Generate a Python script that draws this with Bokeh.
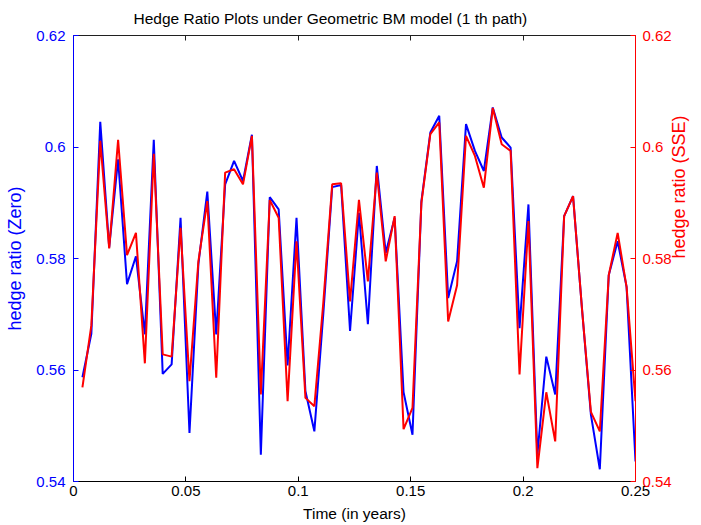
import math
import numpy as np
from bokeh.plotting import figure
from bokeh.models import Range1d, LinearAxis, FixedTicker
from bokeh.embed import file_html
from bokeh.resources import INLINE

# ---- data ----
n_steps = 63
t_end = 0.25
time = np.arange(1, n_steps + 1) * t_end / n_steps

hedge_zero = [0.5587, 0.5665, 0.6045, 0.5820, 0.5978, 0.5754, 0.5804, 0.5664, 0.6013, 0.5593,
              0.5610, 0.5873, 0.5487, 0.5790, 0.5920, 0.5664, 0.5933, 0.5975, 0.5939, 0.6022,
              0.5448, 0.5910, 0.5888, 0.5608, 0.5873, 0.5562, 0.5490, 0.5700, 0.5928, 0.5932,
              0.5670, 0.5882, 0.5682, 0.5966, 0.5810, 0.5873, 0.5560, 0.5484, 0.5903, 0.6026,
              0.6056, 0.5729, 0.5795, 0.6041, 0.5993, 0.5957, 0.6071, 0.6017, 0.5999, 0.5675,
              0.5897, 0.5448, 0.5624, 0.5556, 0.5876, 0.5912, 0.5710, 0.5520, 0.5422, 0.5770,
              0.5831, 0.5749, 0.5436]

hedge_sse = [0.5569, 0.5680, 0.6011, 0.5818, 0.6013, 0.5806, 0.5846, 0.5612, 0.5988, 0.5628,
             0.5624, 0.5855, 0.5580, 0.5795, 0.5903, 0.5586, 0.5954, 0.5960, 0.5933, 0.6020,
             0.5556, 0.5905, 0.5873, 0.5544, 0.5831, 0.5550, 0.5535, 0.5720, 0.5933, 0.5935,
             0.5723, 0.5905, 0.5759, 0.5954, 0.5795, 0.5876, 0.5494, 0.5532, 0.5900, 0.6023,
             0.6044, 0.5687, 0.5752, 0.6020, 0.5984, 0.5927, 0.6070, 0.6005, 0.5993, 0.5592,
             0.5867, 0.5424, 0.5560, 0.5472, 0.5876, 0.5912, 0.5710, 0.5525, 0.5490, 0.5770,
             0.5846, 0.5749, 0.5544]

x_ticks = [0, 0.05, 0.1, 0.15, 0.2, 0.25]
x_tick_labels = ["0", "0.05", "0.1", "0.15", "0.2", "0.25"]
y_ticks = [0.54, 0.56, 0.58, 0.6, 0.62]
y_tick_labels = ["0.54", "0.56", "0.58", "0.6", "0.62"]

title_text = "Hedge Ratio Plots under Geometric BM model (1 th path)"
xlabel = "Time (in years)"
ylabel_left = "hedge ratio (Zero)"
ylabel_right = "hedge ratio (SSE)"

BLUE = "#0000ff"
RED = "#ff0000"
FONT = "Liberation Sans"

p = figure(width=701, height=525, output_backend="svg", toolbar_location=None,
           x_range=Range1d(0, 0.25), y_range=Range1d(0.54, 0.62),
           min_border_left=73, min_border_right=63, min_border_top=35, min_border_bottom=44,
           x_axis_location=None, y_axis_location=None)
p.extra_y_ranges = {"right": Range1d(0.54, 0.62)}
p.grid.visible = False
p.outline_line_color = None
p.background_fill_color = "white"
p.border_fill_color = "white"

p.title.text = title_text
p.title.text_font = FONT
p.title.text_font_size = "15.5px"
p.title.text_font_style = "normal"
p.title.text_color = "#000000"
p.title.align = "left"
p.title.vertical_align = "top"
p.title.offset = 60
p.title.standoff = 14

def style(ax, color, labels_map, ticks):
    ax.ticker = FixedTicker(ticks=ticks)
    ax.major_label_overrides = labels_map
    ax.axis_line_color = color
    ax.axis_line_width = 1
    ax.major_tick_line_color = color
    ax.major_tick_in = 5
    ax.major_tick_out = 0
    ax.minor_tick_line_color = None
    ax.major_label_text_color = color
    ax.major_label_text_font = FONT
    ax.major_label_text_font_size = "15px"
    ax.axis_label_text_font = FONT
    ax.axis_label_text_font_size = "18px"
    ax.axis_label_text_font_style = "normal"
    ax.axis_label_text_color = color

xmap = {x_ticks[i]: x_tick_labels[i] for i in range(len(x_ticks))}
ymap = {y_ticks[i]: y_tick_labels[i] for i in range(len(y_ticks))}

bottom = LinearAxis(axis_label=xlabel)
style(bottom, "#000000", xmap, x_ticks)
bottom.axis_label_text_font_size = "15.5px"
bottom.major_label_standoff = 4
bottom.axis_label_standoff = 6
p.add_layout(bottom, "below")

top = LinearAxis()
style(top, "#202020", xmap, x_ticks)
top.major_label_text_color = None
top.major_label_text_font_size = "1px"
top.major_label_standoff = 0
p.add_layout(top, "above")

left = LinearAxis(axis_label=ylabel_left)
style(left, BLUE, ymap, y_ticks)
left.major_label_standoff = 8
left.axis_label_standoff = 8
p.add_layout(left, "left")

right = LinearAxis(y_range_name="right", axis_label=ylabel_right)
style(right, RED, ymap, y_ticks)
right.major_label_standoff = 7
right.axis_label_standoff = 4
right.axis_label_orientation = math.pi / 2
p.add_layout(right, "right")

p.line(time, hedge_zero, line_color=BLUE, line_width=2)
p.line(time, hedge_sse, line_color=RED, line_width=2, y_range_name="right")

open("out.html", "w").write(file_html(p, INLINE))
